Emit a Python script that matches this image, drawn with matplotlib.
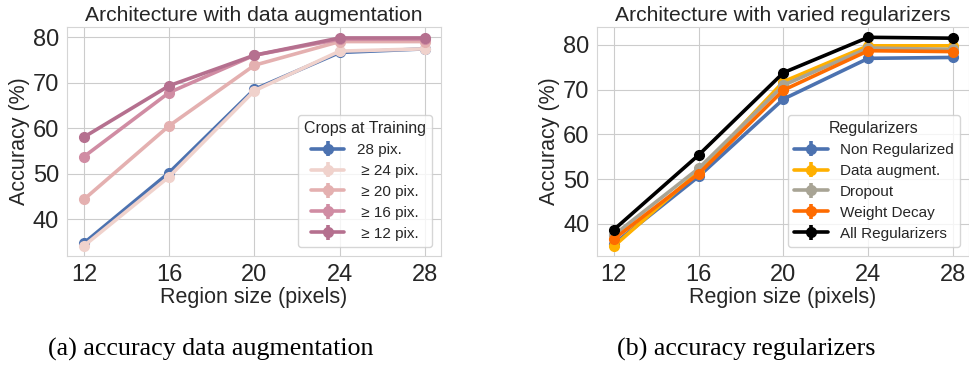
import numpy as np
import matplotlib
matplotlib.use("Agg")
import matplotlib.pyplot as plt
import seaborn as sns

sns.set_style("whitegrid")
plt.rcParams['font.family'] = ['Liberation Sans', 'DejaVu Sans']

region_sizes = [12, 16, 20, 24, 28]

# left panel: crops at training
crop_labels = ["28 pix.", " \u2265 24 pix.", " \u2265 20 pix.", " \u2265 16 pix.", " \u2265 12 pix."]
crop_28 = [34.7, 50.2, 68.5, 76.6, 77.4]
crop_24 = [34.1, 49.3, 68.2, 76.9, 77.4]
crop_20 = [44.3, 60.5, 73.8, 79.0, 79.0]
crop_16 = [53.7, 67.8, 76.0, 79.5, 79.5]
crop_12 = [58.0, 69.3, 76.0, 79.8, 79.8]
crop_colors = ["#4c72b0", "#f0d2cc", "#e4b0b0", "#d08ca3", "#b5708f"]

# right panel: regularizers
reg_labels = ["Non Regularized", "Data augment.", "Dropout", "Weight Decay", "All Regularizers"]
reg_none = [35.5, 50.6, 67.9, 77.0, 77.2]
reg_aug = [35.0, 51.7, 71.8, 79.8, 79.8]
reg_drop = [37.5, 52.4, 71.0, 79.3, 79.0]
reg_wd = [36.6, 51.2, 69.9, 78.7, 78.5]
reg_all = [38.7, 55.4, 73.8, 81.7, 81.5]
reg_colors = ["#4c72b0", "#ffb000", "#a8a495", "#fe6b00", "#000000"]

text_col = "#262626"
fig = plt.figure(figsize=(9.69, 3.65), dpi=100)
ax1 = fig.add_axes([0.069, 0.299, 0.386, 0.627])
ax2 = fig.add_axes([0.616, 0.299, 0.384, 0.627])


def draw(ax, series, labels, colors, title, legend_title, ylim):
    for ys, lab, c in zip(series, labels, colors):
        ax.errorbar(region_sizes, ys, yerr=np.zeros(len(ys)), color=c, lw=2.6,
                    marker="o", ms=7, elinewidth=2.6, label=lab)
    ax.set_xlim(11.2, 28.75)
    ax.set_ylim(*ylim)
    ax.set_xticks(region_sizes)
    ax.set_yticks([40, 50, 60, 70, 80])
    ax.tick_params(labelsize=17, colors=text_col, pad=2)
    ax.set_xlabel("Region size (pixels)", fontsize=15.5, color=text_col, labelpad=1)
    ax.set_ylabel("Accuracy (%)", fontsize=15.5, color=text_col, labelpad=2)
    ax.set_title(title, fontsize=15.2, color=text_col, pad=4)
    for s in ax.spines.values():
        s.set_color("#d5d5d5")
    leg = ax.legend(title=legend_title, loc="lower right", fontsize=11,
                    title_fontsize=11.5, frameon=True, handlelength=2.2,
                    borderaxespad=0.6, labelspacing=0.45)
    plt.setp(leg.get_texts(), color=text_col)
    leg.get_title().set_color(text_col)


draw(ax1, [crop_28, crop_24, crop_20, crop_16, crop_12], crop_labels, crop_colors,
     "Architecture with data augmentation", "Crops at Training", (31.9, 82.2))
draw(ax2, [reg_none, reg_aug, reg_drop, reg_wd, reg_all], reg_labels, reg_colors,
     "Architecture with varied regularizers", "Regularizers", (32.85, 84.0))

fig.text(0.217, 0.043, "(a) accuracy data augmentation", family="Liberation Serif",
         fontsize=18.7, ha="center", va="center", color="black")
fig.text(0.770, 0.043, "(b) accuracy regularizers", family="Liberation Serif",
         fontsize=18.7, ha="center", va="center", color="black")

fig.savefig("out.png", dpi=100)
